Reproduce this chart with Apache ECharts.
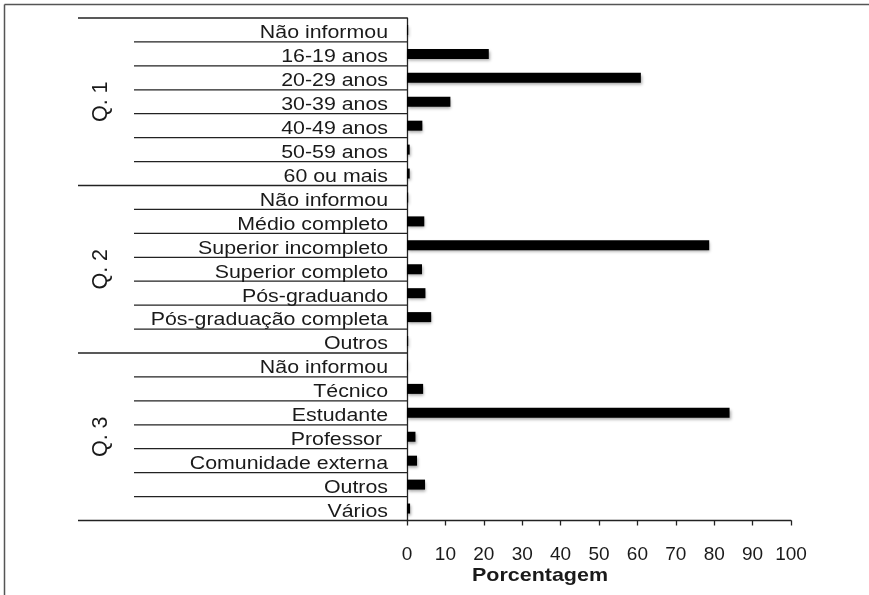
<!DOCTYPE html>
<html>
<head>
<meta charset="utf-8">
<script src="https://cdn.jsdelivr.net/npm/echarts@6/dist/echarts.min.js"></script>
<style>
  html, body { margin: 0; padding: 0; background: #fff; }
  #chart { width: 869px; height: 595px; }
</style>
</head>
<body>
<div id="chart"></div>
<script>
// Q. 1 – faixa etária
var q1Labels = ['Não informou', '16-19 anos', '20-29 anos', '30-39 anos', '40-49 anos', '50-59 anos', '60 ou mais'];
var q1Values = [0.3, 21.3, 60.9, 11.3, 4.0, 0.7, 0.7];
// Q. 2 – escolaridade
var q2Labels = ['Não informou', 'Médio completo', 'Superior incompleto', 'Superior completo', 'Pós-graduando', 'Pós-graduação completa', 'Outros'];
var q2Values = [0.3, 4.5, 78.7, 3.9, 4.8, 6.3, 0.3];
// Q. 3 – ocupação
var q3Labels = ['Não informou', 'Técnico', 'Estudante', 'Professor ', 'Comunidade externa', 'Outros', 'Vários'];
var q3Values = [0.2, 4.2, 84.0, 2.2, 2.6, 4.7, 0.8];

var groupNames = ['Q. 1', 'Q. 2', 'Q. 3'];
var xMin = 0, xMax = 100, xStep = 10;
var xTitle = 'Porcentagem';

var groups = [
  { name: groupNames[0], labels: q1Labels, values: q1Values },
  { name: groupNames[1], labels: q2Labels, values: q2Values },
  { name: groupNames[2], labels: q3Labels, values: q3Values }
];

// Flatten the grouped categories into one row list for the category axis
var rowLabels = [], rowValues = [], rowGroup = [], rowPos = [];
groups.forEach(function (g, gi) {
  g.labels.forEach(function (label, k) {
    rowLabels.push(label);
    rowValues.push(g.values[k]);
    rowGroup.push(gi);
    rowPos.push(k);
  });
});
var rowKeys = rowLabels.map(function (_, i) { return String(i); });

var LINE = '#222';
var TEXT = '#1a1a1a';
var FONT = '"Liberation Sans", Arial, sans-serif';

// Multi-level category labels with separator rules, placed from the axis scale
function renderCategoryLevels(params, api) {
  var i = params.dataIndex;
  var c = api.coord([0, i]);
  var band = api.size([0, 1])[1];
  var x0 = c[0], yc = c[1];
  var g = rowGroup[i], k = rowPos[i], n = groups[g].labels.length;
  var yTop = yc - band / 2, yBot = yc + band / 2;
  var children = [];

  var isGroupEnd = (k === n - 1);
  children.push({
    type: 'line',
    shape: { x1: x0 - (isGroupEnd ? 329 : 273), y1: yBot, x2: x0, y2: yBot },
    style: { stroke: LINE, lineWidth: 1.3 }
  });
  if (i === 0) {
    children.push({
      type: 'line',
      shape: { x1: x0 - 329, y1: yTop, x2: x0, y2: yTop },
      style: { stroke: LINE, lineWidth: 1.3 }
    });
  }
  children.push({
    type: 'text',
    x: x0 - 19,
    y: yc + 3.5,
    scaleX: 1.22,
    style: {
      text: rowLabels[i],
      font: '17.5px ' + FONT,
      fill: TEXT,
      align: 'right',
      verticalAlign: 'middle'
    }
  });
  if (k === 0) {
    children.push({
      type: 'text',
      x: x0 - 306,
      y: yTop + n * band / 2,
      rotation: Math.PI / 2,
      style: {
        text: groups[g].name,
        font: '21.5px ' + FONT,
        fill: TEXT,
        align: 'center',
        verticalAlign: 'middle'
      }
    });
  }
  return { type: 'group', children: children };
}

var chart = echarts.init(document.getElementById('chart'), null, { renderer: 'canvas' });

chart.setOption({
  backgroundColor: '#fff',
  animation: false,
  grid: { left: 407, right: 78, top: 18, bottom: 74.5, containLabel: false },
  xAxis: {
    type: 'value',
    min: xMin,
    max: xMax,
    interval: xStep,
    axisLine: { show: true, lineStyle: { color: LINE, width: 1.3 } },
    axisTick: { show: true, inside: false, length: 5, lineStyle: { color: LINE, width: 1.3 } },
    axisLabel: { show: true, fontFamily: 'Liberation Sans', fontSize: 19, color: TEXT, margin: 25 },
    splitLine: { show: false }
  },
  yAxis: {
    type: 'category',
    data: rowKeys,
    inverse: true,
    axisLine: { show: true, lineStyle: { color: LINE, width: 1.3 } },
    axisTick: { show: false },
    axisLabel: { show: false },
    splitLine: { show: false }
  },
  series: [
    {
      type: 'bar',
      data: rowValues,
      barWidth: 10,
      itemStyle: {
        color: '#000',
        shadowColor: 'rgba(0,0,0,0.35)',
        shadowBlur: 3,
        shadowOffsetX: 1,
        shadowOffsetY: 2
      },
      z: 3
    },
    {
      type: 'custom',
      coordinateSystem: 'cartesian2d',
      data: rowKeys.map(function (_, i) { return [0, i]; }),
      encode: { x: 0, y: 1 },
      renderItem: renderCategoryLevels,
      clip: false,
      silent: true,
      z: 1
    }
  ],
  graphic: [
    {
      type: 'text',
      x: 540,
      y: 576,
      scaleX: 1.16,
      style: {
        text: xTitle,
        font: 'bold 18.5px ' + FONT,
        fill: TEXT,
        align: 'center',
        verticalAlign: 'middle'
      }
    },
    {
      type: 'line',
      shape: { x1: 4.5, y1: 4.5, x2: 869, y2: 4.5 },
      style: { stroke: '#555', lineWidth: 1.5 }
    },
    {
      type: 'line',
      shape: { x1: 4.5, y1: 4.5, x2: 4.5, y2: 595 },
      style: { stroke: '#555', lineWidth: 1.5 }
    }
  ]
});
</script>
</body>
</html>
